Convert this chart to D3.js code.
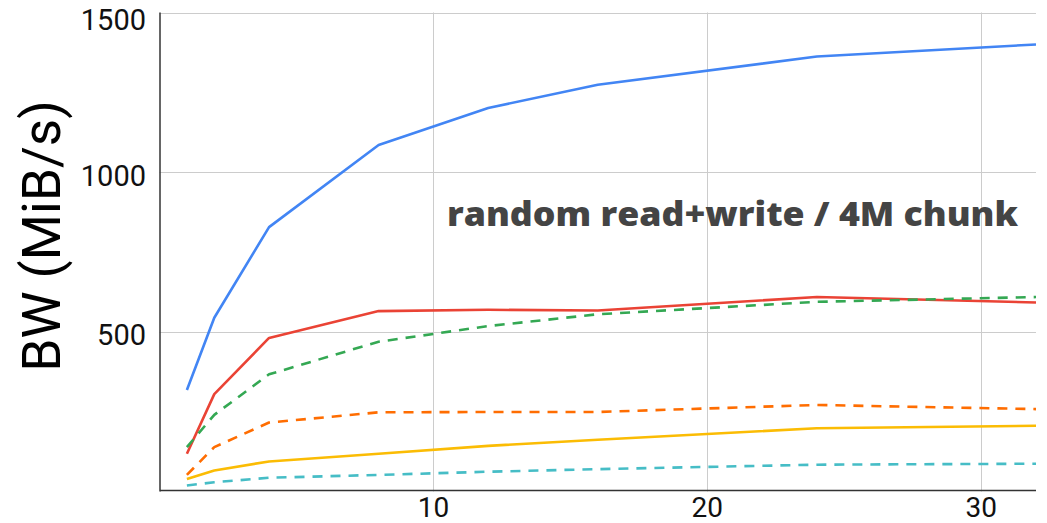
<!DOCTYPE html>
<html>
<head>
<meta charset="utf-8">
<script src="https://cdn.jsdelivr.net/npm/d3@7/dist/d3.min.js"></script>
<style>
  html, body { margin: 0; padding: 0; background: #fff; }
  svg { display: block; }
</style>
</head>
<body>
<svg id="chart" width="1047" height="523"></svg>
<script>
const threads = [1, 2, 4, 8, 12, 16, 24, 32];
const blueSolid   = [318, 544, 828, 1085, 1201, 1274, 1362, 1400];
const redSolid    = [118, 305, 481, 565, 569, 567, 609, 592];
const greenDashed = [139, 240, 367, 469, 518, 555, 594, 609];
const orangeDashed= [52, 139, 216, 248, 249, 249, 271, 258];
const yellowSolid = [39, 66, 94, 118, 143, 162, 198, 206];
const tealDashed  = [19, 29, 43, 52, 62, 70, 84, 87];
const yTicks = [500, 1000, 1500];
const xTicks = [10, 20, 30];
const titleText = "random read+write / 4M chunk";
const yLabel = "BW (MiB/s)";

const series = [
  { values: blueSolid,    color: "#4285F4", dashed: false },
  { values: redSolid,     color: "#EA4335", dashed: false },
  { values: yellowSolid,  color: "#FBBC04", dashed: false },
  { values: greenDashed,  color: "#34A853", dashed: true },
  { values: orangeDashed, color: "#FF6D01", dashed: true },
  { values: tealDashed,   color: "#46BDC6", dashed: true }
];

const svg = d3.select("#chart");
const x = d3.scaleLinear().domain([0, 32]).range([159.5, 1036]);
const y = d3.scaleLinear().domain([0, 1500]).range([491.5, 12.5]);

// gridlines
const grid = svg.append("g");
grid.selectAll("line.h").data(yTicks).enter().append("line")
  .attr("x1", x(0)).attr("x2", x(32))
  .attr("y1", d => Math.round(y(d)) + 0.5).attr("y2", d => Math.round(y(d)) + 0.5)
  .attr("stroke", "#cccccc").attr("stroke-width", 1);
grid.selectAll("line.v").data(xTicks).enter().append("line")
  .attr("x1", d => Math.round(x(d)) + 0.5).attr("x2", d => Math.round(x(d)) + 0.5)
  .attr("y1", y(1500)).attr("y2", y(0))
  .attr("stroke", "#cccccc").attr("stroke-width", 1);

// lines
const line = d3.line().x((d, i) => x(threads[i])).y(d => y(d));
svg.append("g").selectAll("path").data(series).enter().append("path")
  .attr("d", d => line(d.values))
  .attr("fill", "none")
  .attr("stroke", d => d.color)
  .attr("stroke-width", 2.6)
  .attr("stroke-linejoin", "round")
  .attr("stroke-dasharray", d => d.dashed ? "10,8" : null);

// axes lines
svg.append("line").attr("x1", 160).attr("x2", 160).attr("y1", y(1500)).attr("y2", y(0))
  .attr("stroke", "#333").attr("stroke-width", 1.5);
svg.append("line").attr("x1", 160).attr("x2", x(32)).attr("y1", 490.5).attr("y2", 490.5)
  .attr("stroke", "#333").attr("stroke-width", 1.5);

// y tick labels
svg.append("g").selectAll("text").data(yTicks).enter().append("text")
  .attr("x", 146).attr("y", d => d === 1500 ? y(d) + 7 : y(d) + 3)
  .attr("dy", "0.36em")
  .attr("text-anchor", "end")
  .attr("font-family", "Roboto, 'Open Sans', sans-serif")
  .attr("font-size", 29)
  .attr("fill", "#111")
  .text(d => d);

// x tick labels
svg.append("g").selectAll("text").data(xTicks).enter().append("text")
  .attr("x", d => x(d)).attr("y", 517)
  .attr("text-anchor", "middle")
  .attr("font-family", "Roboto, 'Open Sans', sans-serif")
  .attr("font-size", 28)
  .attr("fill", "#111")
  .text(d => d);

// y axis title
svg.append("text")
  .attr("transform", "translate(60,236) rotate(-90)")
  .attr("text-anchor", "middle")
  .attr("font-family", "Roboto, 'Open Sans', sans-serif")
  .attr("font-size", 53)
  .attr("fill", "#000")
  .text(yLabel);

// title annotation
svg.append("text")
  .attr("x", 447).attr("y", 226)
  .attr("font-family", "'Open Sans', sans-serif")
  .attr("font-weight", 800)
  .attr("font-size", 33)
  .attr("textLength", 571)
  .attr("lengthAdjust", "spacingAndGlyphs")
  .attr("fill", "#444")
  .text(titleText);
</script>
</body>
</html>
